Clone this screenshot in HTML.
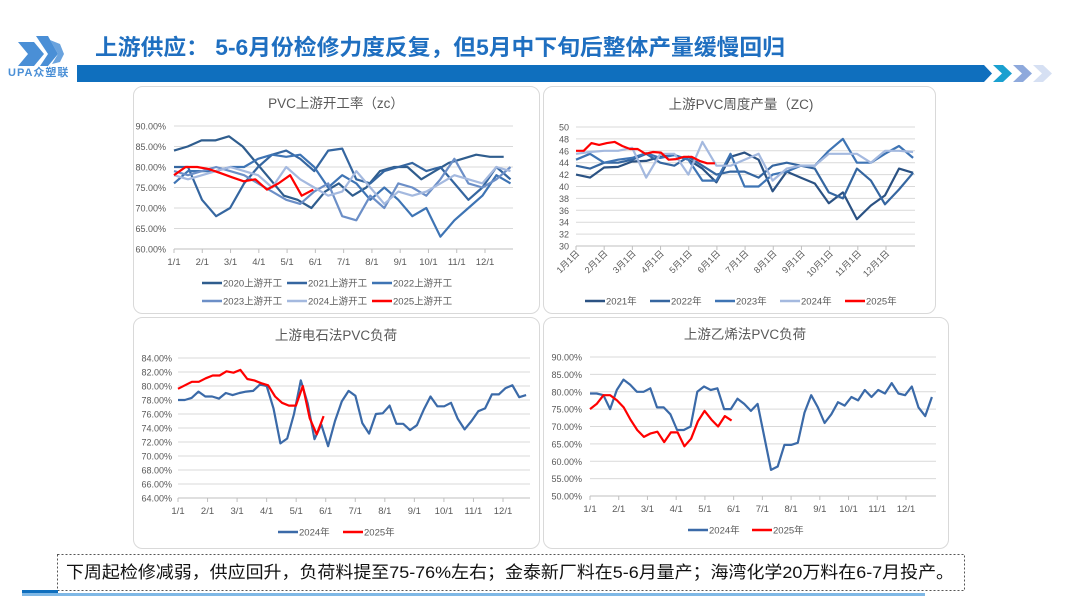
<!DOCTYPE html>
<html><head><meta charset="utf-8">
<style>
html,body{margin:0;padding:0;background:#fff;}
body{width:1080px;height:608px;overflow:hidden;font-family:"Liberation Sans","Noto Sans CJK SC",sans-serif;}
svg text{font-family:"Liberation Sans","Noto Sans CJK SC",sans-serif;}
</style></head><body>
<svg id="s" width="1080" height="608" viewBox="0 0 1080 608" xmlns="http://www.w3.org/2000/svg">
<!-- logo -->
<g fill="#4a8fd6">
<polygon points="18,42 34,42 44,54 34,66 18,66 28,54"/>
<polygon points="36,36 48,36 58,54 48,66 40,66 48,54"/>
<polygon points="50,40 60,44 64,54 60,62 52,64 58,54" fill="#6aa3de"/>
</g>
<text x="8" y="76" font-size="11" font-weight="bold" fill="#4a8fd6" letter-spacing="1">UPA众塑联</text>
<text x="95" y="55" font-size="22" font-weight="bold" fill="#1f6fc0" textLength="690" lengthAdjust="spacingAndGlyphs">上游供应： 5-6月份检修力度反复，但5月中下旬后整体产量缓慢回归</text>
<polygon points="77,65 984,65 992,73.5 984,82 77,82" fill="#0f6fbe"/>
<polygon points="993,65 1003,65 1012,73.5 1003,82 993,82 1002,73.5" fill="#1aa0d0"/>
<polygon points="1013,65 1023,65 1032,73.5 1023,82 1013,82 1022,73.5" fill="#8ea9dc"/>
<polygon points="1033,65 1043,65 1052,73.5 1043,82 1033,82 1042,73.5" fill="#d6e0f3"/>
<!-- panels -->
<g fill="#fff" stroke="#d9d9d9" stroke-width="1">
<rect x="133.5" y="86.5" width="406" height="227" rx="9"/>
<rect x="543.5" y="86.5" width="392" height="227" rx="9"/>
<rect x="133.5" y="317.5" width="406" height="231" rx="9"/>
<rect x="543.5" y="317.5" width="405" height="231" rx="9"/>
</g>
<g id="charts"></g>
<!-- note -->
<rect x="57.5" y="554.5" width="907" height="36" fill="none" stroke="#555" stroke-dasharray="2,2"/>
<text x="66" y="578" font-size="17" fill="#111" textLength="888" lengthAdjust="spacingAndGlyphs">下周起检修减弱，供应回升，负荷料提至75-76%左右；金泰新厂料在5-6月量产；海湾化学20万料在6-7月投产。</text>
<rect x="22" y="590" width="36" height="3" fill="#0f6fbe"/>
<rect x="22" y="593" width="903" height="3" fill="#7fb8e6"/>
</svg>
<script>
var g=document.getElementById('charts'),h='';
function txt(x,y,t,sz,fill,anchor,extra){h+='<text x="'+x+'" y="'+y+'" font-size="'+sz+'" fill="'+fill+'" text-anchor="'+(anchor||'start')+'" '+(extra||'')+'>'+t+'</text>';}
function chart(c){
  var n=(c.max-c.min)/c.step;
  for(var i=0;i<=n;i++){var v=c.min+i*c.step,y=c.yb-(v-c.min)/(c.max-c.min)*(c.yb-c.yt);
    h+='<line x1="'+c.x0+'" x2="'+c.x1+'" y1="'+y+'" y2="'+y+'" stroke="#d9d9d9" stroke-width="1"/>';
    txt(c.lx,y+3.5,c.fmt(v),9,'#595959','end');}
  h+='<line x1="'+c.x0+'" x2="'+c.x1+'" y1="'+c.yb+'" y2="'+c.yb+'" stroke="#bfbfbf"/>';
  var months=c.months;
  for(var m=0;m<12;m++){var x=c.x0+m*(c.xd-c.x0)/11;
    h+='<line x1="'+x+'" x2="'+x+'" y1="'+c.yb+'" y2="'+(c.yb+4)+'" stroke="#bfbfbf"/>';
    if(c.rot) txt(x+4,c.yb+8,months[m],9,'#595959','end','transform="rotate(-45 '+(x+4)+' '+(c.yb+8)+')"');
    else txt(x,c.yb+16,months[m],9.5,'#595959','middle');}
  var spanX=(c.xd-c.x0)/ (334/365);
  c.series.forEach(function(s){
    var pts=s.v.map(function(v,i){var f=s.f*i/(s.v.length-1);var x=c.x0+f*spanX;var y=c.yb-(v-c.min)/(c.max-c.min)*(c.yb-c.yt);return x.toFixed(1)+','+y.toFixed(1);}).join(' ');
    h+='<polyline points="'+pts+'" fill="none" stroke="'+s.c+'" stroke-width="'+(s.w||2.2)+'" stroke-linejoin="round"/>';
  });
  txt(c.tx,c.ty,c.title,13.5,'#595959','middle');
  c.legend.forEach(function(l){h+='<line x1="'+l[0]+'" x2="'+(l[0]+20)+'" y1="'+l[1]+'" y2="'+l[1]+'" stroke="'+l[3]+'" stroke-width="2.5"/>';txt(l[0]+21,l[1]+3.5,l[2],9.5,'#595959');});
}
var mA=['1/1','2/1','3/1','4/1','5/1','6/1','7/1','8/1','9/1','10/1','11/1','12/1'];
var mB=mA.map(function(_,i){return (i+1)+'月1日';});
var pc=function(v){return v.toFixed(2)+'%';};
var C1='#2f5d8e',C2='#3566a0',C3='#3e74b4',C4='#6c8fc7',C5='#a4b9df',R='#ff0000';
chart({x0:174,x1:513,xd:485,yt:126,yb:249,min:60,max:90,step:5,lx:166,fmt:pc,months:mA,tx:336,ty:108,title:'PVC上游开工率（zc）',
series:[
{c:C1,f:0.97,v:[84,85,86.5,86.5,87.5,85,81,77,73,72,70,74,76,73,75,79,80,80,77,79,81,82,83,82.5,82.5]},
{c:C2,f:0.99,v:[80,80,72,68,70,76,80,83,84,82,79,84,84.5,77,76,79,80,81,79,80,76,72,75,80,77]},
{c:C3,f:0.99,v:[76,79,79,79,80,80,82,83,82.5,83,80,75,78,76,72,75,72,68,70,63,67,70,73,78,76]},
{c:C4,f:0.99,v:[79,78,79,80,79,78,76,74,72,71,74,76,68,67,73,70,76,75,73,77,82,76,75,77,80]},
{c:C5,f:0.99,v:[78,77,78,79,80,79,78,75,80,77,75,73,74,79,75,71,74,73,74,76,78,77,76,80,79]},
{c:R,f:0.41,v:[78,80,80,79.5,78.5,77.5,76.5,77,74.5,76,78,73,74.5]}],
legend:[[202,283,'2020上游开工',C1],[287,283,'2021上游开工',C2],[372,283,'2022上游开工',C3],[202,301,'2023上游开工',C4],[287,301,'2024上游开工',C5],[372,301,'2025上游开工',R]]});
chart({x0:576,x1:915,xd:886,yt:127,yb:246,min:30,max:50,step:2,lx:569,fmt:function(v){return v;},months:mB,rot:1,tx:741,ty:109,title:'上游PVC周度产量（ZC)',
series:[
{c:'#2b5283',f:0.995,v:[42,41.5,43.2,43.3,44.2,44.3,45,45.3,44.5,43,40.7,45,45.7,44.5,39.2,42.5,41.5,40.5,37.2,39,34.5,36.8,38.5,43,42.3]},
{c:C2,f:0.995,v:[43.5,43,44,44,44.5,45.5,44,43.5,45,43.5,42,42.5,42.5,41.5,43.5,44,43.5,43,39,38,43,41,37,39.5,42.3]},
{c:C3,f:0.995,v:[44.5,45.5,44,44.5,44.8,45.6,44.8,45.3,44.5,41,41,45.5,40,40,42,42.5,43.5,43.5,46,48,44,44,45.5,46.8,44.8]},
{c:C5,f:0.995,v:[45.5,45.8,46,46,46.5,41.5,45.5,45.5,42,47.5,43.5,43.5,44.5,45.5,41,43,43.5,43.5,45.5,45.5,45.5,44,46,46,45.8]},
{c:R,f:0.41,v:[46,46,47.3,47,47.3,47.5,46.8,46.3,46.3,45.5,45.8,45.7,44.5,44.6,45,45,44.3,43.9,43.9]}],
legend:[[585,301,'2021年','#2b5283'],[650,301,'2022年',C2],[715,301,'2023年',C3],[780,301,'2024年',C5],[845,301,'2025年',R]]});
chart({x0:178,x1:530,xd:503,yt:358,yb:498,min:64,max:84,step:2,lx:172,fmt:pc,months:mA,tx:336,ty:340,title:'上游电石法PVC负荷',
series:[
{c:'#3b6aa8',f:0.98,v:[78,78,78.3,79.2,78.5,78.5,78.2,79,78.7,79,79.2,79.3,80.2,80,76.8,71.8,72.5,76,80.8,77.5,72.4,74.5,71.4,75,77.8,79.3,78.6,74.7,73.2,76,76.1,77.2,74.6,74.6,73.7,74.4,76.6,78.5,77.1,77.1,77.6,75.3,73.8,75,76.4,76.8,78.8,78.8,79.7,80.1,78.4,78.7]},
{c:R,f:0.41,v:[79.6,80.1,80.6,80.6,81.1,81.5,81.5,82.1,81.9,82.3,81,80.8,80.4,80.1,78.5,77.6,77.2,77.2,80,75.4,73.1,75.7]}],
legend:[[278,532,'2024年','#3b6aa8'],[343,532,'2025年',R]]});
chart({x0:590,x1:936,xd:906,yt:357,yb:496,min:50,max:90,step:5,lx:582,fmt:pc,months:mA,tx:745,ty:339,title:'上游乙烯法PVC负荷',
series:[
{c:'#3b6aa8',f:0.99,v:[79.5,79.5,79,75,80.5,83.5,82,80,80,81,75.5,75.5,73.5,69,69,70,80,81.5,80.5,81,75,75,78,76.5,74.5,76.5,67,57.5,58.5,64.7,64.7,65.3,74,79,75.5,71,73.5,77,76,78.5,77.5,80.5,78.5,80.5,79.5,82.5,79.5,79,81.5,75.5,73,78.5]},
{c:R,f:0.41,v:[75,76.5,79,79,77.5,75.5,72,69,67,68,68.5,65.5,68.3,68.3,64.3,66.5,71.5,74.5,72,70,73,71.7]}],
legend:[[688,530,'2024年','#3b6aa8'],[752,530,'2025年',R]]});
g.innerHTML=h;
</script>
</body></html>
